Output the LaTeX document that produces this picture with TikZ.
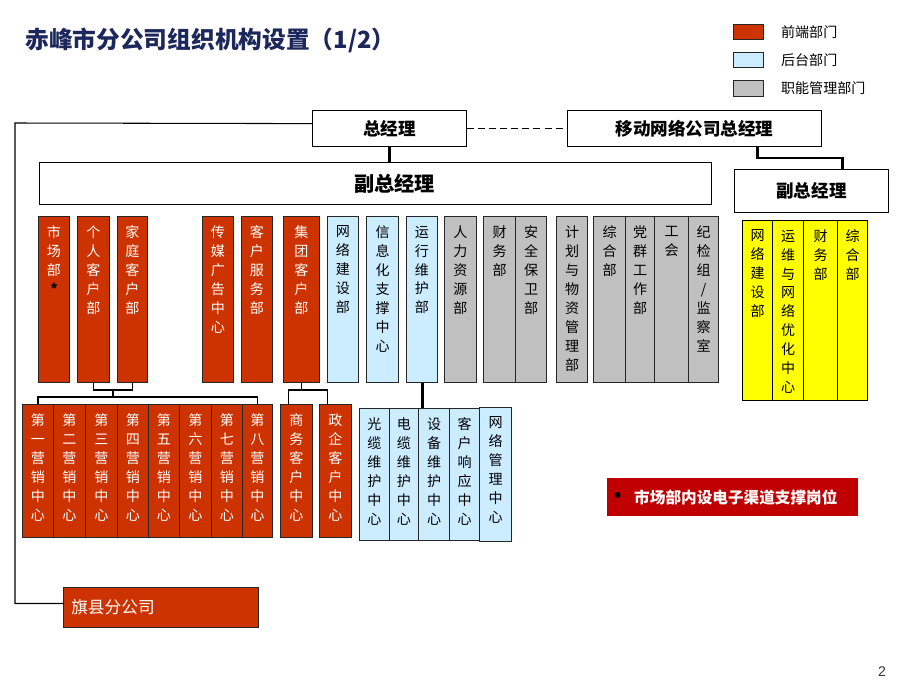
\documentclass[tikz,border=0pt]{standalone}
\usepackage{fontspec}
\setmainfont{Noto Sans CJK SC}
\newfontfamily\latinsans{Liberation Sans}
\usetikzlibrary{calc}

\definecolor{frontred}{RGB}{204,51,0}
\definecolor{backblue}{RGB}{204,236,255}
\definecolor{staffgray}{RGB}{192,192,192}
\definecolor{mobyellow}{RGB}{255,255,0}
\definecolor{notered}{RGB}{192,0,0}
\definecolor{titleblue}{RGB}{28,40,92}

\tikzset{
  front/.style={draw=black!85, line width=0.6pt, fill=frontred, inner sep=0pt},
  back/.style={draw=black!85, line width=0.6pt, fill=backblue, inner sep=0pt},
  staff/.style={draw=black!85, line width=0.6pt, fill=staffgray, inner sep=0pt},
  mob/.style={draw=black, line width=0.6pt, fill=mobyellow, inner sep=0pt},
  plain/.style={draw=black, line width=0.6pt, fill=white, inner sep=0pt},
  note/.style={fill=notered, inner sep=0pt},
  coltext/.style={anchor=north, align=center, inner sep=0pt,
    font=\fontsize{8}{10.8}\selectfont},
  topname/.style={font=\fontsize{10}{12}\selectfont\bfseries},
  link/.style={line width=0.6pt},
  heavy/.style={line width=1.7pt},
}

% box from corner (x1,y1) to corner (x2,y2), in pixels of the slide
\newcommand{\orgbox}[7]{%
  \pgfmathsetlengthmacro{\boxw}{(#5-#3)*0.56905pt}%
  \pgfmathsetlengthmacro{\boxh}{(#6-#4)*0.56905pt}%
  \node[#1, minimum width=\boxw, minimum height=\boxh, anchor=north west] (#2) at (#3,#4) {#7};}
% column box, text written downwards from the top
\newcommand{\colbox}[8][black]{%
  \orgbox{#2}{#3}{#4}{#5}{#6}{#7}{}%
  \node[coltext, text=#1] (#3-t) at ([yshift=-5.5pt]#3.north) {#8};}

\begin{document}
\begin{tikzpicture}[x=0.02cm,y=-0.02cm]
  \useasboundingbox (0,0) rectangle (920,690);

  % title and legend
  \node[anchor=west, inner sep=0pt, text=titleblue, font=\fontsize{13.5}{16}\selectfont\bfseries] (title) at (25,40) {赤峰市分公司组织机构设置（1/2）};
  \orgbox{front}{lg1}{733}{24}{763}{39}{}
  \orgbox{back}{lg2}{733}{52}{763}{67}{}
  \orgbox{staff}{lg3}{733}{80}{763}{96}{}
  \node[anchor=west, inner sep=0pt, font=\fontsize{8}{10}\selectfont] (lg1-t) at ([xshift=9.5pt]lg1.east) {前端部门};
  \node[anchor=west, inner sep=0pt, font=\fontsize{8}{10}\selectfont] (lg2-t) at ([xshift=9.5pt]lg2.east) {后台部门};
  \node[anchor=west, inner sep=0pt, font=\fontsize{8}{10}\selectfont] (lg3-t) at ([xshift=9.5pt]lg3.east) {职能管理部门};

  % managers
  \orgbox{plain, topname}{zjl}{312}{110}{466}{146}{总经理}
  \orgbox{plain, topname}{ydzjl}{567}{110}{821}{146}{移动网络公司总经理}
  \orgbox{plain, font=\fontsize{11.5}{14}\selectfont\bfseries}{fzjl}{39}{162}{711}{204}{\hspace*{22pt}副总经理}
  \orgbox{plain, topname}{ydfzjl}{734}{169}{888}{212}{副总经理}
  \draw[heavy] (zjl.south) -- (zjl.south |- fzjl.north);
  \draw[link, dash pattern=on 4pt off 2.3pt] (zjl.east) -- (ydzjl.west);
  \draw[heavy] ($(ydzjl.south)+(63,0)$) |- ($(ydfzjl.north)+(31,-11)$) -- ($(ydfzjl.north)+(31,0)$);

  % first row of departments
  \colbox[white]{front}{scb}{38}{216}{69}{382}{市\\场\\部\\\textcolor{black}{\bfseries *}}
  \colbox[white]{front}{grkh}{77}{216}{109}{382}{个\\人\\客\\户\\部}
  \colbox[white]{front}{jtkh}{117}{216}{147}{382}{家\\庭\\客\\户\\部}
  \colbox[white]{front}{cmgg}{202}{216}{233}{382}{传\\媒\\广\\告\\中\\心}
  \colbox[white]{front}{khfw}{241}{216}{272}{382}{客\\户\\服\\务\\部}
  \colbox[white]{front}{jituan}{283}{216}{319}{382}{集\\团\\客\\户\\部}
  \colbox{back}{wljs}{327}{216}{358}{382}{网\\络\\建\\设\\部}
  \colbox{back}{xxh}{366}{216}{398}{382}{信\\息\\化\\支\\撑\\中\\心}
  \colbox{back}{yxwh}{406}{216}{437}{382}{运\\行\\维\\护\\部}
  \colbox{staff}{rlzy}{444}{216}{476}{382}{人\\力\\资\\源\\部}
  \colbox{staff}{cwb}{483}{216}{515}{382}{财\\务\\部}
  \colbox{staff}{aqbw}{515}{216}{546}{382}{安\\全\\保\\卫\\部}
  \colbox{staff}{jhwz}{556}{216}{587}{382}{计\\划\\与\\物\\资\\管\\理\\部}
  \colbox{staff}{zhb}{593}{216}{625}{382}{综\\合\\部}
  \colbox{staff}{dqgz}{625}{216}{654}{382}{党\\群\\工\\作\\部}
  \colbox{staff}{gh}{654}{216}{688}{382}{工\\会}
  \colbox{staff}{jjz}{688}{216}{718}{382}{纪\\检\\组\\/\\监\\察\\室}

  % mobile network company
  \colbox{mob}{ywljs}{742}{220}{772}{400}{网\\络\\建\\设\\部}
  \colbox{mob}{ywyh}{772}{220}{803}{400}{运\\维\\与\\网\\络\\优\\化\\中\\心}
  \colbox{mob}{ycwb}{803}{220}{837}{400}{财\\务\\部}
  \colbox{mob}{yzhb}{837}{220}{867}{400}{综\\合\\部}

  % marketing centres
  \colbox[white]{front}{yx1}{22}{404}{53}{537}{第\\一\\营\\销\\中\\心}
  \colbox[white]{front}{yx2}{53}{404}{85}{537}{第\\二\\营\\销\\中\\心}
  \colbox[white]{front}{yx3}{85}{404}{117}{537}{第\\三\\营\\销\\中\\心}
  \colbox[white]{front}{yx4}{117}{404}{148}{537}{第\\四\\营\\销\\中\\心}
  \colbox[white]{front}{yx5}{148}{404}{179}{537}{第\\五\\营\\销\\中\\心}
  \colbox[white]{front}{yx6}{179}{404}{211}{537}{第\\六\\营\\销\\中\\心}
  \colbox[white]{front}{yx7}{211}{404}{242}{537}{第\\七\\营\\销\\中\\心}
  \colbox[white]{front}{yx8}{242}{404}{272}{537}{第\\八\\营\\销\\中\\心}
  \colbox[white]{front}{swkh}{280}{404}{312}{537}{商\\务\\客\\户\\中\\心}
  \colbox[white]{front}{zqkh}{319}{404}{351}{537}{政\\企\\客\\户\\中\\心}

  % maintenance centres
  \colbox{back}{glwh}{359}{408}{389}{540}{光\\缆\\维\\护\\中\\心}
  \colbox{back}{dlwh}{389}{408}{418}{540}{电\\缆\\维\\护\\中\\心}
  \colbox{back}{sbwh}{418}{408}{449}{540}{设\\备\\维\\护\\中\\心}
  \colbox{back}{khxy}{449}{408}{479}{540}{客\\户\\响\\应\\中\\心}
  \colbox{back}{wlgl}{479}{407}{511}{541}{网\\络\\管\\理\\中\\心}

  % connectors below the first row
  \draw[link] (grkh.south) -- ++(0,7) -| (jtkh.south);
  \draw[link] ($(grkh.south)!0.5!(jtkh.south)+(0,7)$) -- ++(0,8);
  \draw[link] (yx1.north) -- ++(0,-7) -| (yx8.north);
  \draw[link] (jituan.south) -- ++(0,7);
  \draw[link] ($(swkh.north)+(-8,0)$) |- ($(jituan.south)+(0,7)$) -| ($(zqkh.north)+(-8,0)$);
  \draw[heavy] (yxwh.south) -- (yxwh.south |- glwh.north);

  % county branches
  \orgbox{front}{qxfgs}{63}{587}{258}{627}{}
  \node[anchor=west, inner sep=0pt, text=white, font=\fontsize{9.5}{11}\selectfont] (qxfgs-t) at ([xshift=4.5pt]qxfgs.west) {旗县分公司};
  \coordinate (lft) at (15,123);
  \draw[link] ([yshift=2.8pt]zjl.west) -- (lft) |- ([yshift=2.3pt]qxfgs.west);

  % note
  \orgbox{note}{remark}{607}{478}{858}{516}{}
  \node[anchor=west, inner sep=0pt, font=\fontsize{8.9}{11}\selectfont\bfseries] (remark-t) at ([xshift=0.3pt]remark.west) {{\fontsize{12}{11}\selectfont•}\hspace{3pt}\textcolor{white}{市场部内设电子渠道支撑岗位}};

  \node[font=\latinsans\fontsize{8}{10}\selectfont, text=black!80] (pg) at (882,672) {2};
\end{tikzpicture}
\end{document}
